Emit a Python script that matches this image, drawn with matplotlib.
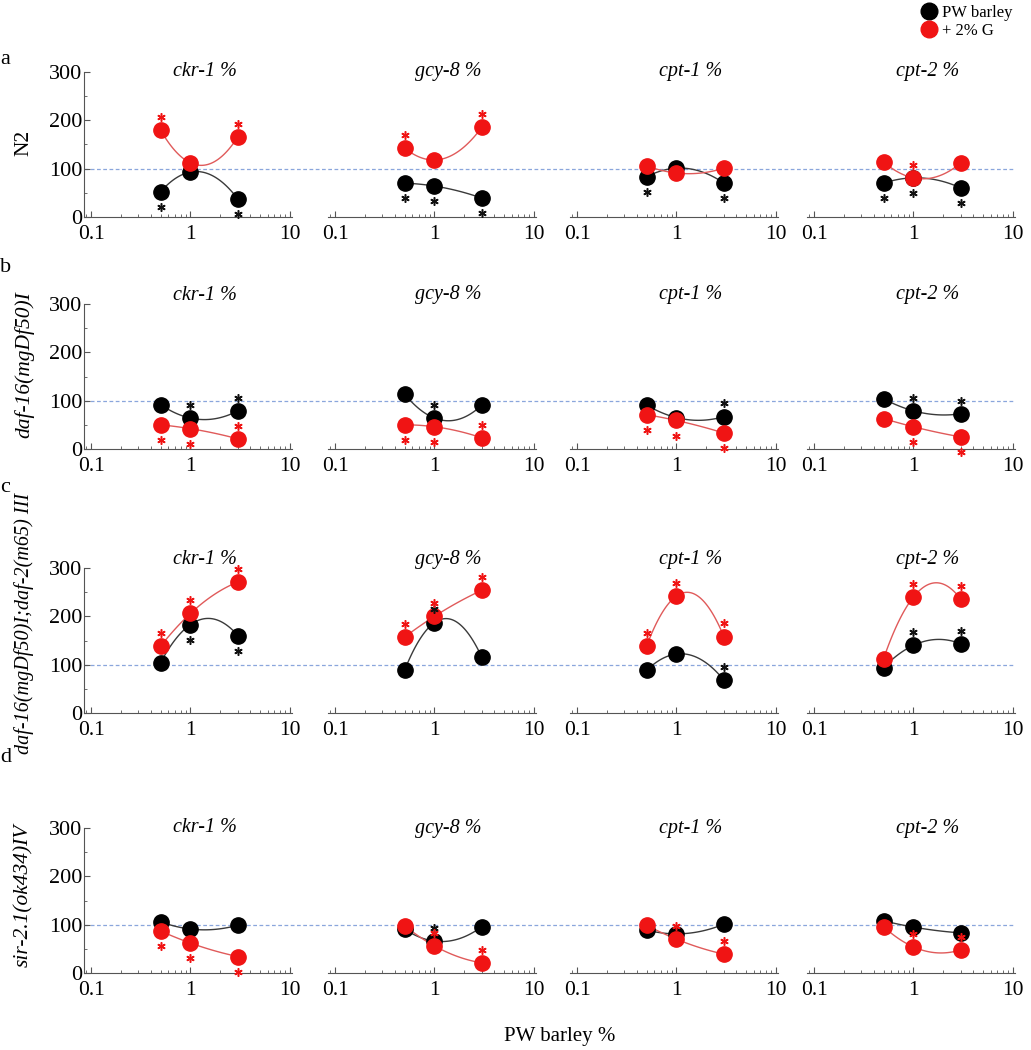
import numpy as np
import matplotlib.pyplot as plt
import matplotlib.transforms as mtransforms
from matplotlib.lines import Line2D

plt.rcParams['font.family'] = ['Liberation Serif', 'DejaVu Serif']

# ---- data ----
dose = [0.5, 1, 3]
genes = ['ckr-1 %', 'gcy-8 %', 'cpt-1 %', 'cpt-2 %']
strains = ['N2', 'daf-16(mgDf50)I', 'daf-16(mgDf50)I;daf-2(m65) III', 'sir-2.1(ok434)IV']
tags = ['a', 'b', 'c', 'd']

# PW barley alone (black), one list per gene
pw_n2 = [[52, 93, 37], [70, 64, 39], [83, 101, 70], [70, 81, 60]]
pw_daf16 = [[92, 64, 79], [114, 64, 91], [91, 65, 67], [104, 79, 73]]
pw_daf16_daf2 = [[104, 183, 160], [88, 187, 115], [88, 122, 68], [94, 140, 143]]
pw_sir21 = [[106, 91, 99], [91, 66, 96], [89, 81, 101], [108, 95, 83]]

# PW barley + 2% G (red)
g_n2 = [[180, 112, 166], [143, 118, 186], [106, 91, 101], [114, 81, 112]]
g_daf16 = [[50, 42, 21], [50, 46, 23], [71, 59, 33], [63, 46, 25]]
g_daf16_daf2 = [[138, 206, 271], [157, 200, 254], [138, 242, 158], [112, 240, 235]]
g_sir21 = [[87, 62, 34], [98, 56, 21], [99, 70, 39], [96, 54, 48]]

# significance stars: 1 = drawn above point, -1 = below, 0 = none
pw_star_n2 = [[-1, 0, -1], [-1, -1, -1], [-1, 0, -1], [-1, -1, -1]]
pw_star_daf16 = [[0, 1, 1], [0, 1, 0], [0, 0, 1], [0, 1, 1]]
pw_star_daf16_daf2 = [[0, -1, -1], [0, 1, 0], [0, 0, 1], [0, 1, 1]]
pw_star_sir21 = [[0, 0, 0], [0, 1, 0], [0, 0, 0], [0, 0, 0]]

g_star_n2 = [[1, 0, 1], [1, 0, 1], [0, 0, 0], [0, 1, 0]]
g_star_daf16 = [[-1, -1, 1], [-1, -1, 1], [-1, -1, -1], [0, -1, -1]]
g_star_daf16_daf2 = [[1, 1, 1], [1, 1, 1], [1, 1, 1], [0, 1, 1]]
g_star_sir21 = [[-1, -1, -1], [0, 1, 1], [0, 1, 1], [0, 1, 1]]

pw_all = [pw_n2, pw_daf16, pw_daf16_daf2, pw_sir21]
g_all = [g_n2, g_daf16, g_daf16_daf2, g_sir21]
pw_stars = [pw_star_n2, pw_star_daf16, pw_star_daf16_daf2, pw_star_sir21]
g_stars = [g_star_n2, g_star_daf16, g_star_daf16_daf2, g_star_sir21]

# ---- layout (pixels) ----
W, H = 1031, 1050
col_left = [84, 328, 570, 807]
col_w = 208
row_top = [72, 304, 568, 828]
row_h = 145
title_y = [72, 295, 560, 828]
tag_y = [60, 268, 488, 757]
label_y = [143, 365, 623, 895]
label_size = [15.5, 15.5, 14.5, 15.5]

BLACK = '#000000'
RED = '#f01414'
BLINE = '#3a3a3a'
RLINE = '#e05a5a'
AXC = '#555555'

fig = plt.figure(figsize=(W / 100, H / 100), dpi=100)


def trend(ax, y, color):
    # quadratic trend line in log10(dose)
    lx = np.log10(dose)
    p = np.polyfit(lx, y, 2)
    xs = np.linspace(lx[0], lx[-1], 120)
    ax.plot(10 ** xs, np.polyval(p, xs), color=color, lw=1.0, zorder=2)


def stars(ax, y, flags, color):
    for xi, yi, f in zip(dose, y, flags):
        if f == 0:
            continue
        dy = 9.5 if f > 0 else -11
        tr = mtransforms.offset_copy(ax.transData, fig=fig, x=0, y=dy, units='points')
        ax.plot(xi, yi, marker=(6, 2, 0), ms=6, mew=1.1, color=color,
                transform=tr, clip_on=False, zorder=5, linestyle='none')


for r in range(4):
    for c in range(4):
        ax = fig.add_axes([col_left[c] / W, 1 - (row_top[r] + row_h) / H,
                           col_w / W, row_h / H])
        ax.set_xscale('log')
        ax.set_xlim(0.085, 10.5)
        ax.set_ylim(0, 300)
        ax.patch.set_alpha(0)

        black = pw_all[r][c]
        red = g_all[r][c]
        trend(ax, black, BLINE)
        trend(ax, red, RLINE)
        ax.plot(dose, black, 'o', color=BLACK, ms=11, zorder=3, clip_on=False)
        ax.plot(dose, red, 'o', color=RED, ms=11, zorder=4, clip_on=False)
        stars(ax, black, pw_stars[r][c], '#111111')
        stars(ax, red, g_stars[r][c], RED)

        for s in ['top', 'right']:
            ax.spines[s].set_visible(False)
        ax.spines['bottom'].set_color(AXC)
        ax.spines['left'].set_color(AXC)
        ax.set_xticks([0.1, 1, 10])
        ax.set_xticklabels(['0.1', '1', '10'])
        ax.tick_params(axis='x', which='major', direction='in', length=4,
                       color=AXC, labelsize=15.5, pad=6)
        ax.tick_params(axis='x', which='minor', direction='in', length=2.5, color=AXC)
        if c == 0:
            ax.set_yticks([0, 100, 200, 300])
            ax.set_yticks([50, 150, 250], minor=True)
            ax.tick_params(axis='y', which='major', direction='in', length=4,
                           color=AXC, labelsize=16, pad=1)
            ax.tick_params(axis='y', which='minor', direction='in', length=2.5, color=AXC)
        else:
            ax.spines['left'].set_visible(False)
            ax.tick_params(axis='y', which='both', left=False, labelleft=False)

        ax.text(0.58, 1 + (row_top[r] - title_y[r]) / row_h, genes[c],
                transform=ax.transAxes, ha='center', va='center',
                fontsize=14.5, style='italic')

        if c == 0:
            # dashed reference line at 100 across the whole row
            tr = mtransforms.blended_transform_factory(fig.transFigure, ax.transData)
            ax.plot([84 / W, 1013 / W], [100, 100], transform=tr, color='#8aa6dc',
                    lw=0.9, ls=(0, (3, 2)), clip_on=False, zorder=1)

    fig.text(0, 1 - tag_y[r] / H, tags[r], fontsize=16, va='center', ha='left')
    fig.text(24 / W, 1 - label_y[r] / H, strains[r], rotation=90, fontsize=label_size[r],
             va='center', ha='center', style='normal' if r == 0 else 'italic')

fig.text(560 / W, 1 - 1037 / H, 'PW barley %', fontsize=15, ha='center', va='center')

handles = [Line2D([], [], marker='o', color=BLACK, ls='none', ms=12),
           Line2D([], [], marker='o', color=RED, ls='none', ms=12)]
fig.legend(handles, ['PW barley', '+ 2% G'], loc='upper left',
           bbox_to_anchor=(912 / W, 1 + 2 / H), frameon=False, fontsize=12,
           handletextpad=0.2, labelspacing=0.15, handlelength=1.2, borderaxespad=0)

fig.savefig('out.png', dpi=100)
